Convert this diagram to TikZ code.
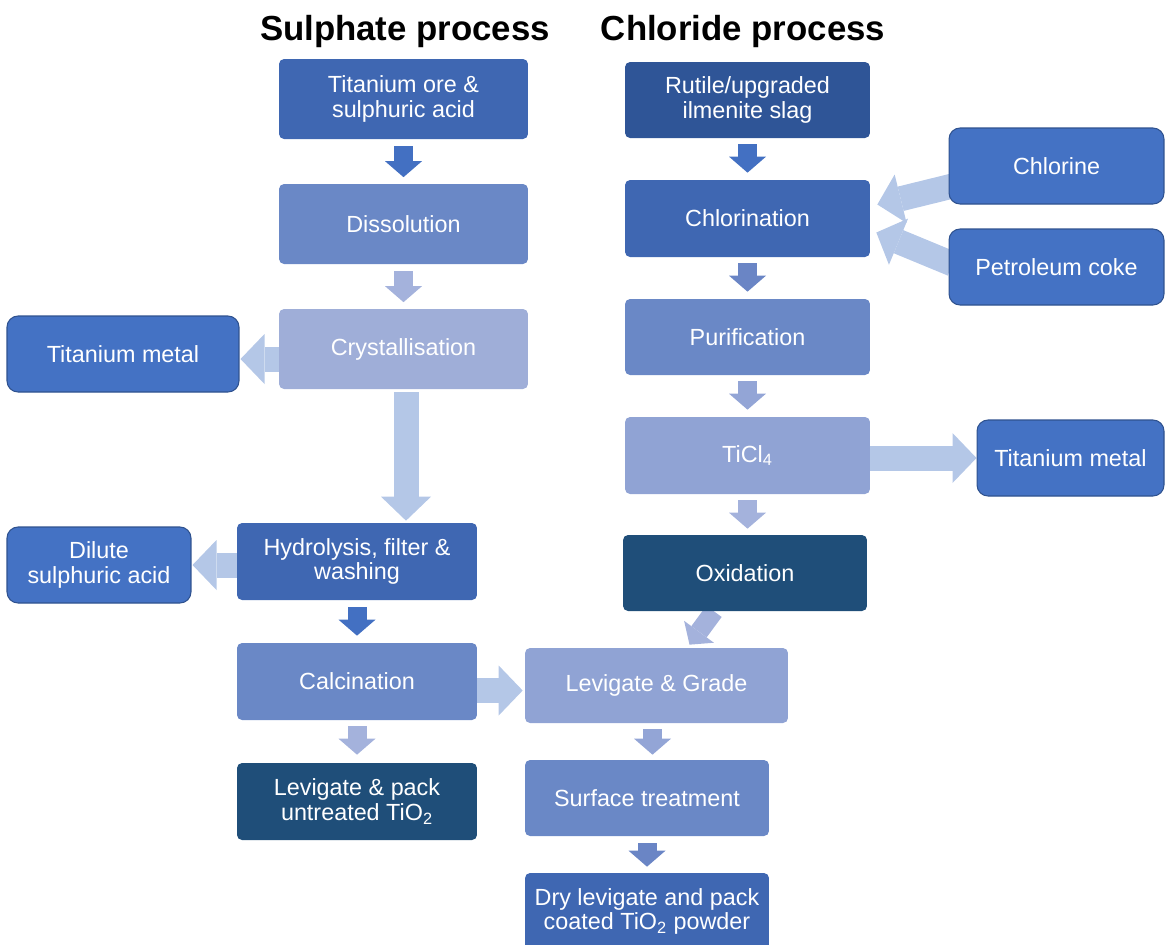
\documentclass[tikz,border=0pt]{standalone}
\usepackage{fontspec}
\setmainfont{Liberation Sans}
\usetikzlibrary{arrows.meta,calc,backgrounds}
% box fills
\definecolor{deepblue}{HTML}{2F5597}
\definecolor{darkblue}{HTML}{3F67B2}
\definecolor{midblue}{HTML}{6A88C6}
\definecolor{lavblue}{HTML}{9FAED8}
\definecolor{paleblue}{HTML}{90A3D4}
\definecolor{navy}{HTML}{1F4E79}
\definecolor{sideblue}{HTML}{4472C4}
\definecolor{sideline}{HTML}{2F528F}
% arrow fills
\definecolor{arrdark}{HTML}{4370C2}
\definecolor{arrmid}{HTML}{6A85C5}
\definecolor{arrpale}{HTML}{93A5D6}
\definecolor{arrsoft}{HTML}{A4B2DC}
\definecolor{arrlight}{HTML}{B4C7E7}

\begin{document}
\begin{tikzpicture}[x=0.02cm, y=-0.02cm,
	stage/.style={fill=#1, text=white, rounded corners=0.1cm, align=center, inner sep=2pt, font=\fontsize{13.3}{13.8}\selectfont},
	outlet/.style={stage=sideblue, draw=sideline, line width=0.6pt, rounded corners=0.22cm, minimum height=1.52cm},
	title/.style={anchor=base, font=\fontsize{19.8}{22}\selectfont\bfseries},
	flow/.style={draw=#1, line width=0.38cm, -{Triangle[length=0.32cm, width=0.74cm, line width=0pt]}},
	feed/.style={draw=#1, line width=0.5cm, -{Triangle[length=0.48cm, width=1cm, line width=0pt]}}]
	\useasboundingbox (0,0) rectangle (1165,944);
	\node[title] (sulph) at (405,40) {Sulphate process};
	\node[title] (chlor) at (743,40) {Chloride process};
	% sulphate route
	\node[stage=darkblue, minimum width=4.98cm, minimum height=1.6cm] (ore) at (403.5,99) {Titanium ore \&\\sulphuric acid};
	\node[stage=midblue, minimum width=4.98cm, minimum height=1.6cm] (dis) at (403.5,224) {Dissolution};
	\node[stage=lavblue, minimum width=4.98cm, minimum height=1.6cm] (cry) at (403.5,349) {Crystallisation};
	\node[outlet, minimum width=4.64cm] (tim) at (123,354) {Titanium metal};
	\node[stage=darkblue, minimum width=4.8cm, minimum height=1.54cm] (hyd) at (357,561.5) {Hydrolysis, filter \&\\washing};
	\node[outlet, minimum width=3.68cm] (dil) at (99,565) {Dilute\\sulphuric acid};
	\node[stage=midblue, minimum width=4.8cm, minimum height=1.54cm] (cal) at (357,681.5) {Calcination};
	\node[stage=navy, minimum width=4.8cm, minimum height=1.54cm] (lpk) at (357,801.5) {Levigate \& pack\\untreated TiO\textsubscript{2}};
	% chloride route
	\node[stage=deepblue, minimum width=4.9cm, minimum height=1.52cm] (rut) at (747.5,100) {Rutile/upgraded\\ilmenite slag};
	\node[stage=darkblue, minimum width=4.9cm, minimum height=1.54cm] (chl) at (747.5,218.5) {Chlorination};
	\node[outlet, minimum width=4.3cm] (cli) at (1056.5,166) {Chlorine};
	\node[outlet, minimum width=4.3cm] (pet) at (1056.5,267) {Petroleum coke};
	\node[stage=midblue, minimum width=4.9cm, minimum height=1.52cm] (pur) at (747.5,337) {Purification};
	\node[stage=paleblue, minimum width=4.9cm, minimum height=1.54cm] (tic) at (747.5,455.5) {TiCl\textsubscript{4}};
	\node[outlet, minimum width=3.74cm] (tim2) at (1070.5,458) {Titanium metal};
	\node[stage=navy, minimum width=4.88cm, minimum height=1.52cm] (oxi) at (745,573) {Oxidation};
	\node[stage=paleblue, minimum width=5.26cm, minimum height=1.5cm] (lgr) at (656.5,685.5) {Levigate \& Grade};
	\node[stage=midblue, minimum width=4.88cm, minimum height=1.52cm] (sur) at (647,798) {Surface treatment};
	\node[stage=darkblue, minimum width=4.88cm, minimum height=1.54cm] (dry) at (647,911.5) {Dry levigate and pack\\coated TiO\textsubscript{2} powder};
	\begin{scope}[on background layer]
		\draw[flow=arrdark, shorten <=0.14cm, shorten >=0.13cm] (ore) -- (dis);
		\draw[flow=arrsoft, shorten <=0.14cm, shorten >=0.13cm] (dis) -- (cry);
		\draw[feed=arrlight, shorten <=0.06cm, shorten >=0.04cm] ([xshift=0.05cm]cry.south) -- ([xshift=0.05cm]cry.south |- hyd.north);
		\draw[feed=arrlight, shorten >=0.02cm] ([yshift=-0.2cm]cry.west) -- ([yshift=-0.2cm]cry.west -| tim.east);
		\draw[feed=arrlight, shorten >=0.02cm] (hyd.west |- dil.east) -- (dil.east);
		\draw[flow=arrdark, shorten <=0.14cm, shorten >=0.14cm] (hyd) -- (cal);
		\draw[flow=arrsoft, shorten <=0.12cm, shorten >=0.16cm] (cal) -- (lpk);
		\draw[feed=arrlight, shorten >=0.04cm] ($(cal.east)+(0,9)$) coordinate (calr) -- (calr -| lgr.west);
		\draw[flow=arrdark, shorten <=0.12cm, shorten >=0.14cm] (rut) -- (chl);
		\draw[flow=arrmid, shorten <=0.12cm, shorten >=0.14cm] (chl) -- (pur);
		\draw[flow=arrpale, shorten <=0.12cm, shorten >=0.14cm] (pur) -- (tic);
		\draw[flow=arrsoft, shorten <=0.12cm, shorten >=0.12cm] (tic.south) -- (tic.south |- oxi.north);
		\draw[feed=arrlight] (tim2.west -| tic.east) -- (tim2.west);
		\draw[feed=arrlight] ($(cli.west)+(4,20)$) -- ($(chl.east)+(7,-14)$);
		\draw[feed=arrlight] ($(pet.west)+(4,-3)$) -- ($(chl.east)+(6,14)$);
		\draw[flow=arrsoft] ($(oxi.south)+(-31,0)$) -- ($(lgr.north)+(33,-3)$);
		\draw[flow=arrpale, shorten <=0.12cm, shorten >=0.1cm] ([xshift=-0.08cm]lgr.south) -- ([xshift=-0.08cm]lgr.south |- sur.north);
		\draw[flow=arrmid, shorten <=0.14cm, shorten >=0.12cm] (sur) -- (dry);
	\end{scope}
\end{tikzpicture}
\end{document}
